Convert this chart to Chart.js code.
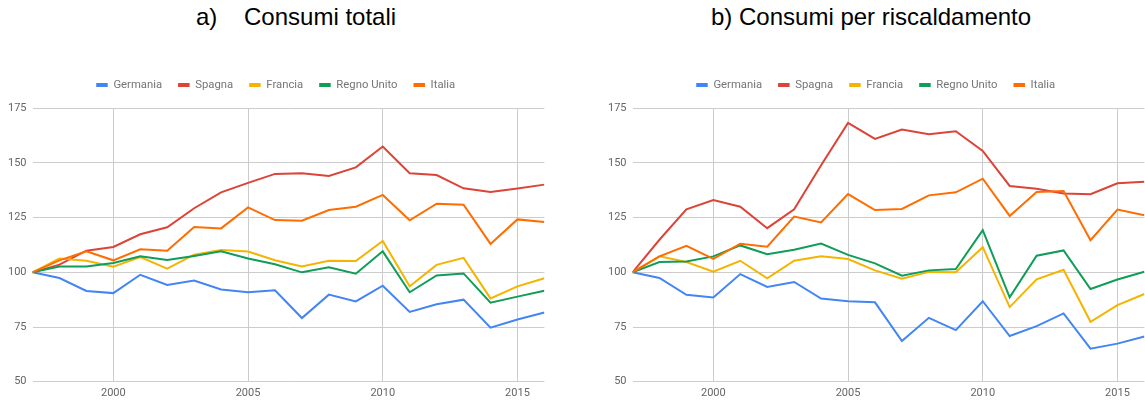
<!DOCTYPE html>
<html>
<head>
<meta charset="utf-8">
<script src="https://cdn.jsdelivr.net/npm/chart.js@4"></script>
<style>
  body { margin: 0; width: 1145px; height: 400px; overflow: hidden; background: #fff; position: relative; }
  .titolo { position: absolute; top: 5px; font: 24px "Liberation Sans", Arial, sans-serif; line-height: 24px; color: #000; white-space: pre; }
  .pannello { position: absolute; top: 60px; width: 560px; height: 340px; }
</style>
</head>
<body>
<div class="titolo" style="left:196px">a)    Consumi totali</div>
<div class="titolo" style="left:711px">b) Consumi per riscaldamento</div>
<div class="pannello" style="left:0px"><canvas id="totali" width="560" height="340"></canvas></div>
<div class="pannello" style="left:600px"><canvas id="riscaldamento" width="560" height="340"></canvas></div>
<script>
const anni = [1997, 1998, 1999, 2000, 2001, 2002, 2003, 2004, 2005, 2006, 2007, 2008, 2009, 2010, 2011, 2012, 2013, 2014, 2015, 2016];
const tickAnni = [2000, 2005, 2010, 2015];
const paesi = ['Germania', 'Spagna', 'Francia', 'Regno Unito', 'Italia'];
const colori = ['#4285F4', '#DB4437', '#F4B400', '#0F9D58', '#FF6D01'];

// a) consumi totali (1997 = 100)
const totGermania = [100, 97.4, 91.5, 90.5, 98.9, 94.2, 96.3, 92.2, 90.9, 91.8, 79.1, 89.8, 86.7, 93.9, 81.9, 85.4, 87.5, 74.7, 78.4, 81.6];
const totSpagna = [100, 103.5, 109.9, 111.6, 117.4, 120.6, 129.3, 136.6, 140.9, 145.0, 145.3, 144.1, 148.0, 157.5, 145.3, 144.5, 138.4, 136.7, 138.3, 140.1];
const totFrancia = [100, 106.3, 105.3, 102.6, 107.0, 101.7, 108.1, 110.2, 109.5, 105.5, 102.7, 105.3, 105.2, 114.3, 93.6, 103.4, 106.6, 88.1, 93.6, 97.3];
const totRegnoUnito = [100, 102.7, 102.7, 104.3, 107.3, 105.6, 107.5, 109.6, 106.3, 103.7, 100.0, 102.3, 99.4, 109.6, 90.9, 98.6, 99.5, 86.1, 88.9, 91.6];
const totItalia = [100, 105.5, 109.6, 105.5, 110.5, 109.9, 120.7, 120.1, 129.7, 123.9, 123.6, 128.5, 130.0, 135.4, 123.8, 131.4, 130.9, 113.0, 124.2, 123.0];

// b) consumi per riscaldamento (1997 = 100)
const riscGermania = [100, 97.4, 89.7, 88.5, 99.2, 93.3, 95.6, 88.0, 86.8, 86.3, 68.6, 79.2, 73.6, 86.8, 70.9, 75.4, 81.2, 65.1, 67.4, 70.7];
const riscSpagna = [100, 114.9, 128.8, 133.1, 130.0, 120.2, 128.8, 149.0, 168.3, 161.0, 165.3, 163.1, 164.5, 155.5, 139.5, 138.2, 136.1, 135.7, 140.7, 141.4];
const riscFrancia = [100, 107.3, 104.7, 100.3, 105.3, 97.3, 105.3, 107.4, 106.1, 100.9, 97.1, 100.2, 100.0, 111.5, 84.1, 96.8, 101.2, 77.4, 85.0, 90.1];
const riscRegnoUnito = [100, 104.7, 105.0, 107.3, 112.3, 108.3, 110.3, 113.2, 108.0, 104.1, 98.5, 100.9, 101.5, 119.3, 88.6, 107.6, 110.0, 92.4, 96.7, 100.3];
const riscItalia = [100, 107.3, 112.1, 106.2, 113.1, 111.7, 125.5, 122.8, 135.8, 128.5, 129.0, 135.2, 136.6, 142.8, 125.8, 136.7, 137.2, 114.7, 128.7, 126.1];

const yMin = 50, yMax = 175, yStep = 25;

function creaDatasets(serie) {
    return serie.map((valori, i) => ({
        label: paesi[i],
        data: valori.map((v, j) => ({ x: anni[j], y: v })),
        borderColor: colori[i],
        backgroundColor: colori[i],
        borderWidth: 2,
        pointRadius: 0,
        tension: 0,
        order: serie.length - i
    }));
}

const legendaSpazio = {
    id: 'legendaSpazio',
    beforeInit(chart) {
        const fitOrig = chart.legend.fit;
        chart.legend.fit = function () {
            fitOrig.bind(chart.legend)();
            this.height += 7.6;
        };
    }
};

function creaGrafico(id, serie) {
    const ctx = document.getElementById(id).getContext('2d');
    return new Chart(ctx, {
        type: 'line',
        data: { datasets: creaDatasets(serie) },
        plugins: [legendaSpazio],
        options: {
            responsive: false,
            animation: false,
            devicePixelRatio: 1,
            layout: { padding: { left: 7, right: 15.6, top: 3.4, bottom: 0 } },
            plugins: {
                tooltip: { enabled: false },
                legend: {
                    display: true,
                    position: 'top',
                    labels: {
                        boxWidth: 11.5,
                        boxHeight: 4,
                        padding: 16,
                        color: '#757575',
                        font: { family: 'Roboto', size: 11.3 },
                        sort: (a, b) => a.datasetIndex - b.datasetIndex,
                        generateLabels: (chart) => Chart.defaults.plugins.legend.labels.generateLabels(chart).map(l => ({ ...l, lineWidth: 0 }))
                    }
                }
            },
            scales: {
                x: {
                    type: 'linear',
                    min: anni[0],
                    max: anni[anni.length - 1],
                    afterBuildTicks: (scale) => { scale.ticks = tickAnni.map(v => ({ value: v })); },
                    afterFit: (scale) => { scale.height = 18.3; },
                    border: { display: false },
                    grid: { color: '#cccccc', drawTicks: false },
                    ticks: {
                        padding: 5,
                        color: '#666666',
                        font: { family: 'Roboto', size: 11 },
                        maxRotation: 0,
                        callback: (v) => String(v)
                    }
                },
                y: {
                    min: yMin,
                    max: yMax,
                    afterFit: (scale) => { scale.width = 25.5; },
                    border: { display: false },
                    grid: { color: '#cccccc', drawTicks: false },
                    ticks: {
                        stepSize: yStep,
                        padding: 6,
                        color: '#666666',
                        font: { family: 'Roboto', size: 11 }
                    }
                }
            }
        }
    });
}

creaGrafico('totali', [totGermania, totSpagna, totFrancia, totRegnoUnito, totItalia]);
creaGrafico('riscaldamento', [riscGermania, riscSpagna, riscFrancia, riscRegnoUnito, riscItalia]);
</script>
</body>
</html>
